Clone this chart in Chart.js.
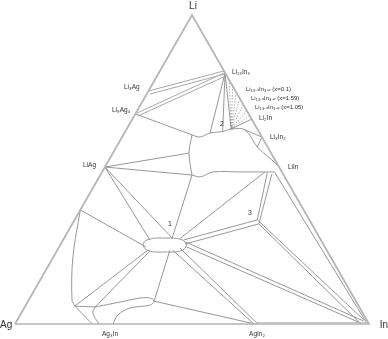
<!DOCTYPE html>
<html>
<head>
<meta charset="utf-8">
<script src="https://cdn.jsdelivr.net/npm/chart.js@4/dist/chart.umd.min.js"></script>
<style>
  html, body { margin: 0; padding: 0; background: #ffffff; }
  #wrap { width: 388px; height: 339px; }
</style>
</head>
<body>
<div id="wrap"><canvas id="c" width="388" height="339"></canvas></div>
<script>
// Compositions are [at.% Li, at.% In] (remainder Ag).
const triangleEdges = [
  [[0,0],[0,100],[100,0],[0,0]]
];

const agIn2InBand = [
  [[0.4,67.8],[0.4,99.6]]
];

const liAgTieBands = [
  [[75.4,0],[81.9,18.1]],
  [[74.4,0.9],[80.9,18.8]],
  [[68.3,0.4],[81.2,18.4]],
  [[67.3,1.0],[80.3,19.5]]
];

const liAgTies = [
  [[68.0,0],[61.2,19.4]],
  [[50.8,0],[55.3,21.5]],
  [[50.8,0],[48.2,25.9]],
  [[50.8,0],[27.2,24.5]],
  [[50.8,0],[27.8,30.5]],
  [[36.9,0],[24.9,24.6]]
];

const centralRegion = [
  [[61.2,19.4],[60.5,22.0],[61.8,24.2],[62.3,27.5],[63.1,29.5],[62.8,33.6],[57.3,39.8],[53.7,45.1],[51.1,48.9]],
  [[61.2,19.4],[55.3,21.5],[48.2,25.9]],
  [[48.2,25.9],[47.6,28.5],[49.2,31.3],[49.2,39.0],[49.2,46.0],[49.2,48.8]]
];

const region2Ties = [
  [[81.3,18.7],[61.8,24.2]],
  [[81.3,18.7],[62.3,27.5]],
  [[81.3,18.7],[63.1,29.5]],
  [[66.3,33.7],[63.1,29.5]],
  [[62.8,33.6],[60.5,39.5]],
  [[60.5,39.5],[57.3,39.8]]
];

const fanTies = [
  [[79.0,21.0],[63.1,29.5]],
  [[77.0,23.0],[63.1,29.5]],
  [[75.0,25.0],[63.1,29.5]],
  [[73.0,27.0],[63.1,29.5]],
  [[71.0,29.0],[63.1,29.5]],
  [[69.0,31.0],[63.1,29.5]],
  [[67.5,32.5],[63.1,29.5]]
];

const lowerTies = [
  [[48.2,25.9],[27.8,30.5]],
  [[49.2,46.0],[27.7,32.8]],
  [[33.7,51.6],[48.9,46.8]],
  [[32.4,52.7],[48.5,48.3]],
  [[33.7,51.6],[27.2,34.1]],
  [[32.4,52.7],[25.9,35.1]],
  [[33.7,51.6],[1.3,97.9]],
  [[32.4,52.7],[0.3,97.3]],
  [[26.5,35.0],[1.0,97.9]],
  [[24.9,36.1],[0.3,97.5]],
  [[48.9,49.0],[0.6,98.9]],
  [[23.9,32.6],[0,67.5]],
  [[24.6,34.3],[0,68.6]],
  [[7.4,35.6],[0,67.8]],
  [[7.4,35.6],[23.9,31.8]],
  [[5.8,14.0],[23.9,25.6]],
  [[5.5,19.9],[23.6,26.3]],
  [[5.8,14.0],[0,21.8]],
  [[5.8,14.0],[5.5,19.9]]
];

const agRichCurves = [
  [[36.9,0],[21.7,5.5],[7.8,12.2],[5.8,14.0]],
  [[5.5,19.9],[3.6,20.2],[0,23.7]],
  [[5.5,19.9],[7.1,26.1],[8.4,31.1],[8.4,33.9],[7.4,35.6],[6.1,35.1],[5.2,29.9],[2.9,27.6],[0,27.7]]
];

const ellipseRegion = [
  [[25.6,35.8],[27.3,33.5],[27.8,28.5],[27.3,23.9],[25.6,23.4],[23.8,25.7],[23.3,30.7],[23.8,35.3],[25.6,35.8]]
];

const vertexLabels = ['Li', 'Ag', 'In'];
const phaseLabels = ['Li\u2081\u2083In\u2083',
  'Li\u2081\u2083\u208B\u2093In\u2083\u208A\u2093 (x=0.1)',
  'Li\u2081\u2083\u208B\u2093In\u2083\u208A\u2093 (x=1.59)',
  'Li\u2081\u2083\u208B\u2093In\u2083\u208A\u2093 (x=1.05)',
  'Li\u2082In', 'Li\u2083In\u2082', 'LiIn',
  'Li\u2083Ag', 'Li\u2089Ag\u2084', 'LiAg',
  'Ag\u2083In', 'AgIn\u2082'];
const regionLabels = ['1', '2', '3'];

// ---- presentation ----
const toXY = ([li, inn]) => ({ x: inn / 100 + li / 200, y: li / 100 });

const datasets = [];
function addGroup(group, style) {
  group.forEach(line => {
    datasets.push(Object.assign({
      data: line.map(toXY),
      showLine: true,
      pointRadius: 0,
      pointHoverRadius: 0,
      fill: false,
      borderColor: '#8c8c8c',
      borderWidth: 0.9,
      tension: 0
    }, style));
  });
}
addGroup(triangleEdges, { borderColor: '#b4b4b4', borderWidth: 1.7 });
addGroup(agIn2InBand, { borderColor: '#b4b4b4', borderWidth: 1.0 });
addGroup(liAgTieBands, { borderColor: '#a8a8a8', borderWidth: 1.0 });
addGroup(liAgTies, {});
addGroup(centralRegion, { tension: 0.35 });
addGroup(region2Ties, {});
addGroup(fanTies, { borderDash: [1.5, 1.5], borderColor: '#9a9a9a', borderWidth: 0.8 });
addGroup(lowerTies, {});
addGroup(agRichCurves, { tension: 0.35 });
addGroup(ellipseRegion, { tension: 0.45 });

const labelLayout = {
  vertex: [[193, 6, 'center', 10], [0, 325, 'left', 10], [388, 325, 'right', 10]],
  phase: [
    [232, 72, 'left', 6.5],
    [246, 89, 'left', 6],
    [251, 98, 'left', 6],
    [255, 107, 'left', 6],
    [259, 118, 'left', 6.5],
    [270, 137, 'left', 6.5],
    [288, 167, 'left', 6.5],
    [124, 87, 'left', 6.5],
    [112, 110, 'left', 6.5],
    [83, 165, 'left', 6.5],
    [110, 334, 'center', 6.5],
    [257, 334, 'center', 6.5]
  ],
  region: [[170, 224, 'center', 7], [222, 124, 'center', 7], [250, 213, 'center', 7]]
};

const textPlugin = {
  id: 'texts',
  afterDraw(chart) {
    const ctx = chart.ctx;
    ctx.save();
    ctx.fillStyle = '#333333';
    ctx.textBaseline = 'middle';
    const draw = (texts, layout) => texts.forEach((t, i) => {
      const [x, y, align, size] = layout[i];
      ctx.font = size + 'px "Liberation Sans", Arial, sans-serif';
      ctx.textAlign = align;
      ctx.fillText(t, x, y);
    });
    draw(vertexLabels, labelLayout.vertex);
    draw(phaseLabels, labelLayout.phase);
    draw(regionLabels, labelLayout.region);
    ctx.restore();
  }
};

new Chart(document.getElementById('c'), {
  type: 'scatter',
  data: { datasets },
  options: {
    responsive: false,
    animation: false,
    layout: { padding: 0 },
    plugins: { legend: { display: false }, tooltip: { enabled: false }, title: { display: false } },
    scales: {
      x: { type: 'linear', display: false, min: -15 / 354, max: 373 / 354 },
      y: { type: 'linear', display: false, min: -15 / 309, max: 1 + 15 / 309 }
    }
  },
  plugins: [textPlugin]
});
</script>
</body>
</html>
